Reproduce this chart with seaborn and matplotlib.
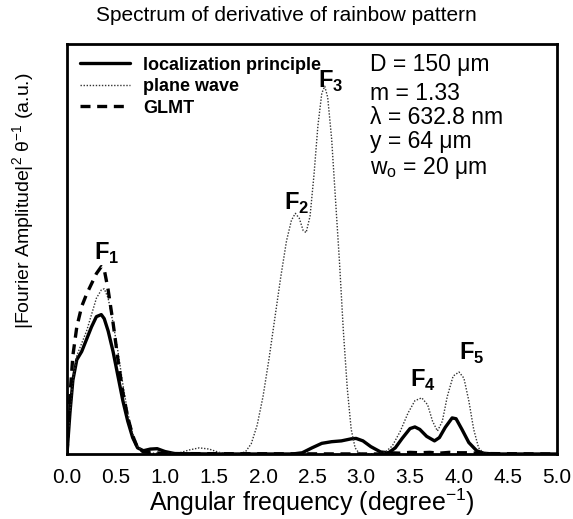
import matplotlib
matplotlib.use("Agg")
import matplotlib.pyplot as plt
import seaborn as sns
import pandas as pd

# ---- data (arbitrary units 0-100) ----
plane_x = [0.0, 0.03, 0.06, 0.1, 0.15, 0.2, 0.25, 0.3, 0.35, 0.38, 0.42, 0.47, 0.52, 0.57,
           0.62, 0.67, 0.72, 0.78, 0.85, 0.95, 1.05, 1.15, 1.25, 1.35, 1.45, 1.55, 1.65,
           1.75, 1.82, 1.88, 1.94, 2.0, 2.06, 2.12, 2.18, 2.24, 2.29, 2.33, 2.37, 2.41,
           2.44, 2.48, 2.52, 2.56, 2.6, 2.63, 2.66, 2.7, 2.74, 2.78, 2.82, 2.86, 2.9, 2.94,
           2.98, 3.05, 3.15, 3.25, 3.32, 3.4, 3.48, 3.55, 3.62, 3.68, 3.73, 3.78, 3.83,
           3.88, 3.94, 4.0, 4.05, 4.1, 4.15, 4.2, 4.25, 4.35, 5.0]
plane_y = [0, 10, 18, 24, 27, 30, 34, 38, 40, 40.3, 38, 32, 25, 17,
           10, 5, 2, 0.5, 0.2, 0.2, 0.1, 0.3, 1.0, 1.5, 1.2, 0.4, 0.1,
           0.1, 0.5, 2.5, 7, 14, 23, 33, 43, 52, 57, 58.7, 57.5, 54.5,
           54, 58, 68, 80, 88, 89.7, 87, 77, 62, 47, 30, 16, 6, 1.5,
           0.2, 0, 0, 0.5, 2, 5.5, 10, 13, 13.7, 12, 8, 5.6, 8,
           14, 19, 20, 18.5, 13, 6, 1.5, 0.2, 0, 0]

loc_x = [0.0, 0.03, 0.06, 0.1, 0.15, 0.2, 0.25, 0.3, 0.35, 0.38, 0.42, 0.47, 0.52, 0.57,
         0.62, 0.67, 0.72, 0.78, 0.85, 0.92, 1.0, 1.1, 1.5, 2.3, 2.4, 2.5, 2.6, 2.7, 2.8,
         2.9, 2.95, 3.02, 3.1, 3.2, 3.28, 3.35, 3.42, 3.5, 3.55, 3.6, 3.67, 3.75, 3.8,
         3.86, 3.93, 3.97, 4.03, 4.1, 4.18, 4.25, 4.35, 5.0]
loc_y = [0, 10, 18, 23, 25, 28, 31, 33.5, 34, 33, 30, 25, 19, 13,
         8, 4, 1.5, 0.8, 1.2, 1.3, 0.6, 0.1, 0, 0, 0.3, 1.5, 2.6, 3, 3.2,
         3.7, 3.8, 3.2, 1.8, 0.5, 0.3, 1.5, 3.8, 6.2, 6.6, 6, 4.3, 3.2, 4,
         6.5, 8.8, 8.6, 6, 2.8, 0.8, 0.2, 0, 0]

glmt_x = [0.0, 0.03, 0.06, 0.1, 0.15, 0.2, 0.25, 0.3, 0.35, 0.38, 0.42, 0.47, 0.52, 0.57,
          0.62, 0.67, 0.72, 0.78, 0.9, 1.0, 3.2, 3.3, 3.4, 3.5, 3.6, 3.7, 3.8, 3.9, 4.0,
          4.1, 4.2, 4.3, 5.0]
glmt_y = [0, 14, 24, 31, 36, 39, 41.5, 44, 45.7, 45, 40, 32, 23, 15,
          9, 4.5, 1.5, 0.5, 0.3, 0.1, 0, 0.3, 0.2, 0.4, 0.3, 0.4, 0.2, 0.4, 0.3,
          0.3, 0.2, 0.1, 0]

series_names = ["localization principle", "plane wave", "GLMT"]
params_text = ["D = 150 μm", "m = 1.33", "λ = 632.8 nm", "y = 64 μm", "w$_\\mathregular{o}$ = 20 μm"]
params_pos_y = [0.949, 0.880, 0.820, 0.761, 0.698]
peak_labels = ["F$_\\mathbf{1}$", "F$_\\mathbf{2}$", "F$_\\mathbf{3}$", "F$_\\mathbf{4}$", "F$_\\mathbf{5}$"]
peak_pos_x = [0.28, 2.21, 2.56, 3.5, 4.0]
peak_pos_y = [49, 61, 91, 18, 24.5]
xticks = [0.0, 0.5, 1.0, 1.5, 2.0, 2.5, 3.0, 3.5, 4.0, 4.5, 5.0]

# ---- plot ----
sns.set_theme(style="white")
plt.rcParams["font.family"] = ["Liberation Sans", "DejaVu Sans"]
plt.rcParams["mathtext.fontset"] = "custom"
plt.rcParams["mathtext.rm"] = "Liberation Sans"
plt.rcParams["mathtext.bf"] = "Liberation Sans:bold"
plt.rcParams["text.color"] = "black"
plt.rcParams["axes.labelcolor"] = "black"
plt.rcParams["xtick.color"] = "black"

fig = plt.figure(figsize=(5.73, 5.19), dpi=100)
ax = fig.add_axes([67 / 573, (519 - 454) / 519, (557 - 67) / 573, (454 - 44) / 519])

df_loc = pd.DataFrame({"x": loc_x, "y": loc_y})
df_pw = pd.DataFrame({"x": plane_x, "y": plane_y})
df_gl = pd.DataFrame({"x": glmt_x, "y": glmt_y})

sns.lineplot(data=df_loc, x="x", y="y", ax=ax, color="black", linewidth=2.4,
             label=series_names[0])
sns.lineplot(data=df_pw, x="x", y="y", ax=ax, color="#333333", linewidth=1.0,
             linestyle=(0, (1, 1.2)), label=series_names[1])
sns.lineplot(data=df_gl, x="x", y="y", ax=ax, color="black", linewidth=2.4,
             linestyle=(0, (3, 2)), label=series_names[2])

ax.set_xlim(0, 5.0)
ax.set_ylim(0, 100)
ax.set_xticks(xticks)
ax.set_xticklabels([f"{t:.1f}" for t in xticks], fontsize=15)
ax.set_yticks([])
ax.tick_params(axis="x", length=0, pad=10)
for s in ax.spines.values():
    s.set_visible(True)
    s.set_color("black")
    s.set_linewidth(2.0)

ax.set_xlabel("Angular frequency (degree$^{\\mathregular{-1}}$)", fontsize=18, labelpad=0)
ax.set_ylabel("|Fourier Amplitude|$^{\\mathregular{2}}$ θ$^{\\mathregular{-1}}$ (a.u.)",
              fontsize=14)
ax.yaxis.set_label_coords(-0.062, (454 - 201) / 410)
fig.suptitle("Spectrum of derivative of rainbow pattern", fontsize=15, y=0.988)

leg = ax.legend(loc="upper left", frameon=False, fontsize=13, handlelength=2.8,
                handletextpad=0.7, labelspacing=0.25, borderaxespad=0.3,
                bbox_to_anchor=(0.0, 1.0))
for t in leg.get_texts():
    t.set_fontweight("bold")

for t, py in zip(params_text, params_pos_y):
    ax.text(0.618, py, t, transform=ax.transAxes, fontsize=16.5,
            ha="left", va="center")

for lab, px, py in zip(peak_labels, peak_pos_x, peak_pos_y):
    ax.text(px, py, lab, fontsize=17, fontweight="bold", ha="left", va="center")

fig.savefig("out.png", dpi=100)
